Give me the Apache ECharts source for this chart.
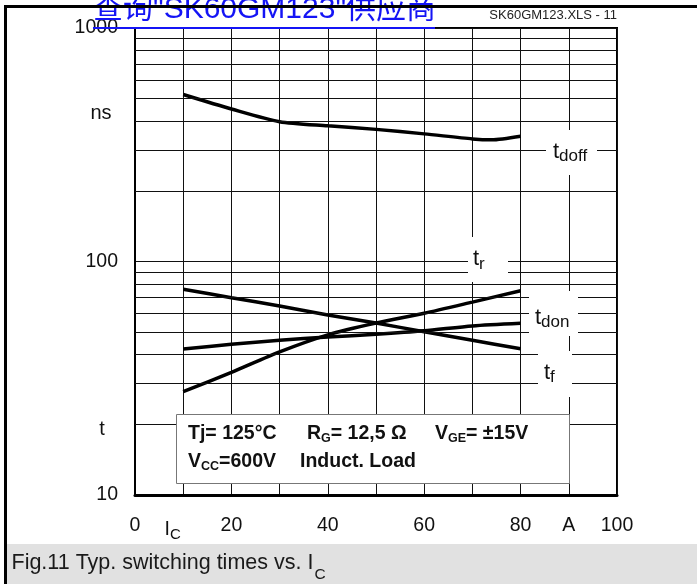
<!DOCTYPE html>
<html><head><meta charset="utf-8">
<script src="https://cdn.jsdelivr.net/npm/echarts@6/dist/echarts.min.js"></script>
<style>html,body{margin:0;padding:0;background:#fff}#c{width:697px;height:584px}</style>
</head><body><div id="c"></div>
<script>
// ---- data ----
const tdoffPts = [[10,519],[20,450],[30,397],[40,381],[50,368],[60,352],[70,335],[74,332],[80,344]];
const trPts    = [[10,27.7],[20,33.5],[30,41.0],[40,48.5],[50,54.5],[60,60],[70,67],[80,75]];
const tdonPts  = [[10,42.2],[20,44.2],[30,46],[40,47.5],[50,48.8],[60,50.5],[70,53],[80,54.4]];
const tfPts    = [[10,76],[20,70],[30,64.5],[40,59],[50,54.5],[60,50],[70,46],[80,42.3]];
const xTickLabels = ['0','{i|I}{c|C}','20','','40','','60','','80','A','100'];
const minorGridValues = [20,30,40,50,60,70,80,90,200,300,400,500,600,700,800,900];
const titleText = '查询"SK60GM123"供应商';
const fileTag = 'SK60GM123.XLS - 11';
const captionMain = 'Fig.11 Typ. switching times vs. ';
const captionSub = ['I','C'];

const F = '"Liberation Sans", Arial, Helvetica, sans-serif';
const chart = echarts.init(document.getElementById('c'), null, {renderer:'canvas'});

function lineSeries(name, pts){
  return {name, type:'line', data:pts, smooth:0.25, showSymbol:false, symbol:'none',
    lineStyle:{color:'#000', width:3.5}, z:3, silent:true};
}

const rectWhite = (x,y,w,h)=>({type:'rect', shape:{x,y,width:w,height:h}, style:{fill:'#fff'}, z:10, silent:true});
const curveLabel = (x,y,main,sub)=>({type:'text', z:11, silent:true, style:{
  x, y, text:'{m|'+main+'}{s|'+sub+'}', align:'left', verticalAlign:'middle', fill:'#111',
  rich:{m:{fontSize:22, fontFamily:F, fill:'#111'}, s:{fontSize:17, fontFamily:F, fill:'#111', padding:[10,0,0,0]}}
}});
const legendText = (x,y,txt)=>({type:'text', z:12, silent:true, style:{
  x, y, text:txt, align:'left', verticalAlign:'middle', fill:'#111',
  rich:{b:{fontSize:19.5, fontWeight:'bold', fontFamily:F, fill:'#111'},
        s:{fontSize:12.5, fontWeight:'bold', fontFamily:F, fill:'#111', padding:[9,0,0,0]}}
}});

const option = {
  animation:false,
  backgroundColor:'#fff',
  grid:{left:135, top:28, width:482, height:467, show:true, borderColor:'#000', borderWidth:2, backgroundColor:'transparent'},
  xAxis:{type:'value', min:0, max:100, interval:10,
    axisLine:{show:true, lineStyle:{color:'#000', width:3}},
    axisTick:{show:false},
    splitLine:{show:true, lineStyle:{color:'#111', width:1}},
    axisLabel:{show:true, margin:21, fontSize:19.5, fontFamily:F, color:'#111',
      formatter:(v)=>xTickLabels[Math.round(v/10)] || '',
      rich:{i:{fontSize:19.5, fontFamily:F, color:'#111'},
            c:{fontSize:15, fontFamily:F, color:'#111', padding:[11.5,21,0,0]}}}
  },
  yAxis:{type:'log', logBase:10, min:10, max:1000,
    axisLine:{show:true, lineStyle:{color:'#000', width:2}},
    axisTick:{show:false},
    splitLine:{show:true, lineStyle:{color:'#111', width:1}},
    minorTick:{show:false}, minorSplitLine:{show:false},
    axisLabel:{show:true, margin:17, fontSize:19.5, fontFamily:F, color:'#111',
      formatter:(v)=>String(Math.round(v))}
  },
  series:[
    Object.assign(lineSeries('tdoff', tdoffPts), {
      markLine:{silent:true, symbol:'none', animation:false, label:{show:false},
        lineStyle:{color:'#111', width:1, type:'solid'},
        emphasis:{disabled:true},
        data:minorGridValues.map(v=>({yAxis:v}))}
    }),
    lineSeries('tr', trPts),
    lineSeries('tdon', tdonPts),
    lineSeries('tf', tfPts)
  ],
  graphic:[
    // gaps behind curve labels
    rectWhite(546,130,51,45),
    rectWhite(468,237,40,45),
    rectWhite(529,291,49,45),
    rectWhite(538,351,34,46),
    curveLabel(553,151.5,'t','doff'),
    curveLabel(473,259,'t','r'),
    curveLabel(535,317.5,'t','don'),
    curveLabel(544,372.5,'t','f'),
    // parameter box
    {type:'rect', z:10, silent:true, shape:{x:176.5,y:414.5,width:393,height:69}, style:{fill:'#fff', stroke:'#777', lineWidth:1}},
    legendText(188,434,'{b|Tj= 125°C}'),
    legendText(307,434,'{b|R}{s|G}{b|= 12,5 Ω}'),
    legendText(435,434,'{b|V}{s|GE}{b|= ±15V}'),
    legendText(188,462,'{b|V}{s|CC}{b|=600V}'),
    legendText(300,462,'{b|Induct. Load}'),
    // axis unit texts
    {type:'text', z:11, silent:true, style:{x:101, y:113, text:'ns', align:'center', verticalAlign:'middle', fontSize:20, fontFamily:F, fill:'#111'}},
    {type:'text', z:11, silent:true, style:{x:102, y:429, text:'t', align:'center', verticalAlign:'middle', fontSize:20, fontFamily:F, fill:'#111'}},
    // header
    {type:'text', z:15, silent:true, style:{x:93, y:10, text:titleText, align:'left', verticalAlign:'middle', fontSize:30, fontFamily:'"Liberation Sans", Arial, "Noto Sans CJK SC", sans-serif', fill:'#1414f5'}},
    {type:'line', z:15, silent:true, shape:{x1:93,y1:28,x2:435,y2:28}, style:{stroke:'#1414f5', lineWidth:2}},
    {type:'text', z:15, silent:true, style:{x:617, y:15, text:fileTag, align:'right', verticalAlign:'middle', fontSize:13, fontFamily:F, fill:'#222'}},
    // caption band
    {type:'rect', z:14, silent:true, shape:{x:5,y:544,width:692,height:40}, style:{fill:'#e1e1e1'}},
    {type:'text', z:15, silent:true, style:{x:11.5, y:563, text:'{m|'+captionMain+captionSub[0]+'}{s|'+captionSub[1]+'}', align:'left', verticalAlign:'middle',
      rich:{m:{fontSize:21.5, fontFamily:F, fill:'#1a1a1a'}, s:{fontSize:15.5, fontFamily:F, fill:'#1a1a1a', padding:[23,0,0,1]}}}},
    // outer frame
    {type:'line', z:20, silent:true, shape:{x1:4,y1:6.5,x2:697,y2:6.5}, style:{stroke:'#000', lineWidth:3}},
    {type:'line', z:20, silent:true, shape:{x1:5.5,y1:5,x2:5.5,y2:584}, style:{stroke:'#000', lineWidth:3}}
  ]
};
chart.setOption(option);
</script></body></html>
